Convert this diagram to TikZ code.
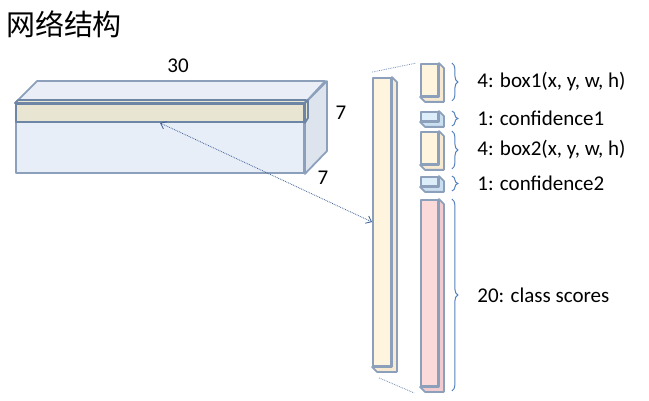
\documentclass[tikz,border=0pt]{standalone}
\usepackage{fontspec}
\setmainfont{Carlito}
\newfontfamily\cjkfont{Noto Sans CJK SC}
\usetikzlibrary{arrows.meta,calc,decorations.pathreplacing}

\definecolor{edgegray}{RGB}{140,160,188}
\definecolor{boxfront}{RGB}{232,238,247}
\definecolor{boxtop}{RGB}{234,239,247}
\definecolor{boxside}{RGB}{222,228,238}
\definecolor{stripfill}{RGB}{232,230,211}
\definecolor{stripedge}{RGB}{110,134,166}
\definecolor{cream}{RGB}{255,244,221}
\definecolor{creamside}{RGB}{247,234,208}
\definecolor{conf}{RGB}{219,238,249}
\definecolor{confside}{RGB}{202,223,239}
\definecolor{pink}{RGB}{253,218,218}
\definecolor{pinkside}{RGB}{242,203,207}
\definecolor{bracecol}{RGB}{84,130,190}
\definecolor{linkcol}{RGB}{60,95,150}

\tikzset{
  face/.style={draw=edgegray, line width=1.8pt, line join=round, inner sep=0pt},
  num/.style={font=\fontsize{21}{24}\selectfont, inner sep=0pt},
  lbl/.style={font=\fontsize{21}{24}\selectfont, inner sep=0pt, midway, anchor=west, xshift=25pt},
  title/.style={font=\cjkfont\fontsize{29}{32}\selectfont, inner sep=0pt},
  brace/.style={draw=bracecol, line width=1pt, decorate, decoration={brace, amplitude=6pt}},
  link/.style={draw=linkcol, line width=0.8pt, densely dotted, {Straight Barb[length=5pt,width=8pt]}-{Straight Barb[length=5pt,width=8pt]}},
  guide/.style={draw=linkcol!70, line width=0.8pt, densely dotted}
}

\begin{document}
\begin{tikzpicture}[x=1pt,y=-1pt]
  \useasboundingbox (0,0) rectangle (649,401);

  \node[title] (title) at (64,24) {网络结构};

  % 7x7x30 output
  \node[face, fill=boxfront, minimum width=288pt, minimum height=69pt] (big) at (160,138.5) {};
  \draw[face, fill=boxtop] (big.north west) -- ++(22,-22) -- ++(288,0) -- (big.north east) -- cycle;
  \draw[face, fill=boxside] (big.north east) -- ++(22,-22) -- ++(0,70) -- (big.south east) -- cycle;

  \node[face, draw=stripedge, fill=stripfill, minimum width=288pt, minimum height=18pt] (strip) at (160,113) {};
  \draw[face, draw=stripedge, fill=stripfill] (strip.north west) -- ++(3,-3) -- ++(288,0) -- (strip.north east) -- cycle;
  \draw[face, draw=stripedge, fill=stripfill] (strip.north east) -- ++(3,-3) -- ++(0,18) -- (strip.south east) -- cycle;

  \node[num] (w) at (178,66) {30};
  \node[num] (h) at (341,113) {7};
  \node[num] (d) at (323,178) {7};

  % one cell, 30 values
  \node[face, fill=cream, minimum width=18pt, minimum height=288pt] (col) at (382,222) {};

  \node[face, fill=cream, minimum width=17pt, minimum height=32pt] (b1) at (429.5,80) {};
  \node[face, fill=conf, minimum width=17pt, minimum height=9pt] (c1) at (429.5,116.5) {};
  \node[face, fill=cream, minimum width=17pt, minimum height=32pt] (b2) at (429.5,148) {};
  \node[face, fill=conf, minimum width=17pt, minimum height=9pt] (c2) at (429.5,181.5) {};
  \node[face, fill=pink, minimum width=17pt, minimum height=186pt] (cls) at (429.5,293) {};

  \foreach \n/\c in {col/creamside, b1/creamside, c1/confside, b2/creamside, c2/confside, cls/pinkside}
    \draw[face, fill=\c] (\n.north east) -- ++(5,5) -- ($(\n.south east)+(5,5)$)
      -- ($(\n.south west)+(5,5)$) -- (\n.south west) -- (\n.south east) -- cycle;

  \draw[link] (strip.south) -- (col.west);
  \draw[guide] ([yshift=5pt]col.north west) -- ([xshift=-4pt]b1.north west);
  \draw[guide] ([xshift=7pt,yshift=-11pt]col.south west) -- ([xshift=-6pt,yshift=-6pt]cls.south west);

  \foreach \n/\t in {b1/{4: box1(x, y, w, h)}, c1/{1: confidence1}, b2/{4: box2(x, y, w, h)},
                     c2/{1: confidence2}, cls/{20: class scores}}
    \draw[brace] ([xshift=13pt]\n.north east) -- ([xshift=13pt,yshift=-4pt]\n.south east) node[lbl] {\t};
\end{tikzpicture}
\end{document}
